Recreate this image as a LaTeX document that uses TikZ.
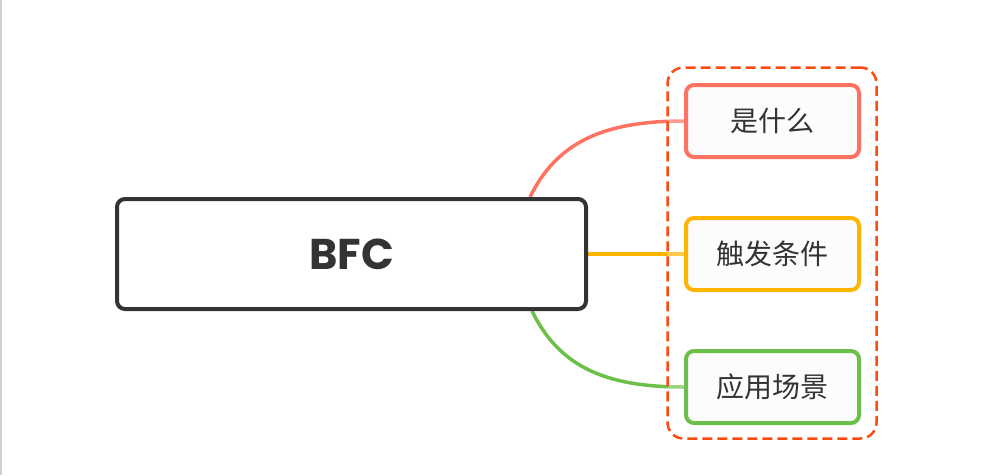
\documentclass[tikz,border=0pt]{standalone}
\usepackage{fontspec}
\newfontfamily\poppins{Poppins}
\newfontfamily\cjk{Noto Sans CJK SC}
\usetikzlibrary{calc,backgrounds}
\definecolor{darkline}{HTML}{333333}
\definecolor{txt}{HTML}{333333}
\definecolor{cred}{HTML}{FF7262}
\definecolor{corange}{HTML}{FFB400}
\definecolor{cgreen}{HTML}{6CC04A}
\definecolor{cdash}{HTML}{FF4A0F}
\definecolor{boxfill}{HTML}{FCFCFC}
\definecolor{edge}{HTML}{D0D0D0}
\begin{document}
\begin{tikzpicture}[x=1pt,y=-1pt,
  mainbox/.style={draw=darkline,line width=4pt,rounded corners=8pt,fill=white,
    minimum width=469pt,minimum height=110pt,inner sep=0pt,
    font=\poppins\bfseries\fontsize{43}{48}\selectfont,text=txt},
  childbox/.style={line width=4pt,rounded corners=8pt,fill=boxfill,
    minimum width=173pt,minimum height=72pt,inner sep=0pt,
    font=\cjk\fontsize{28}{32}\selectfont,text=txt},
  conn/.style={line width=3.5pt}]
\useasboundingbox (0,0) rectangle (993,475);

\node[mainbox] (main) at (351.5,254) {BFC};
\node[childbox,draw=cred] (what) at (772.5,121) {是什么};
\node[childbox,draw=corange] (cond) at (772.5,254) {触发条件};
\node[childbox,draw=cgreen] (scene) at (772.5,387) {应用场景};

\begin{scope}[on background layer]
\fill[white] (0,0) rectangle (993,475);
\draw[edge,line width=1.5pt] (0.75,0) -- (0.75,475);
\coordinate (mt) at ($(main.north east)+(-58,0)$);
\coordinate (mb) at ($(main.south east)+(-56,0)$);
\draw[conn,cred] (mt) .. controls ($(mt)+(27,-55)$) and ($(what.west)+(-80,0)$) .. (what.west);
\draw[conn,corange] (main.east) -- (cond.west);
\draw[conn,cgreen] (mb) .. controls ($(mb)+(27,55)$) and ($(scene.west)+(-80,0)$) .. (scene.west);
\node[draw=cdash,dash pattern=on 10pt off 5pt,line width=2.5pt,rounded corners=16pt,
  fill=white,fill opacity=0.3,draw opacity=1,minimum width=209pt,minimum height=371pt]
  (group) at (772,253) {};
\end{scope}
\end{tikzpicture}
\end{document}
